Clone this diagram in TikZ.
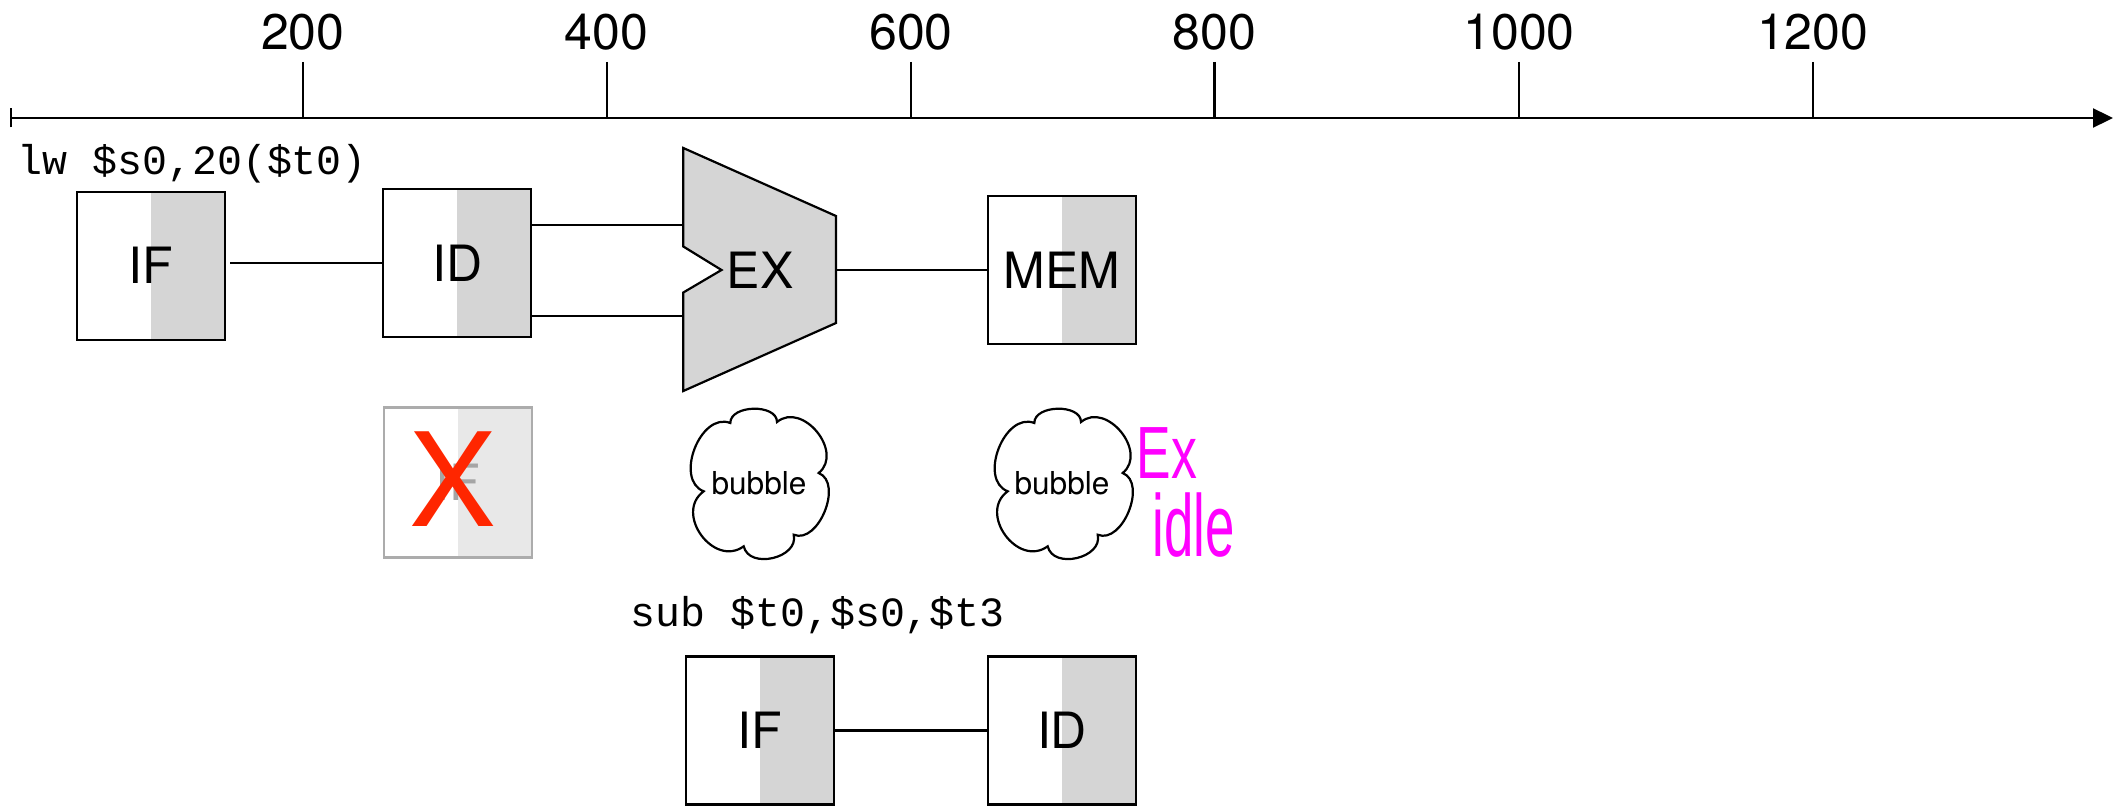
\documentclass[tikz,border=0pt]{standalone}
\usepackage{fontspec}
\setmainfont{TeX Gyre Heros}
\newfontfamily\codefont{Liberation Mono}
\newfontfamily\handfont{Liberation Sans}
\usetikzlibrary{arrows.meta}
\definecolor{stagegray}{RGB}{213,213,213}
\definecolor{fadeline}{RGB}{172,172,172}
\definecolor{fadefill}{RGB}{232,232,232}
\definecolor{fadetext}{RGB}{165,165,165}
\definecolor{stallred}{RGB}{255,38,0}
\definecolor{inkpink}{RGB}{255,0,255}
\tikzset{
  wire/.style={line width=1.1pt},
  stagebox/.style={draw, line width=1.1pt, minimum width=74pt, minimum height=74pt,
    inner sep=0pt, font=\fontsize{25}{30}\selectfont,
    path picture={\fill[stagegray] (path picture bounding box.north)
      rectangle (path picture bounding box.south east);}},
  fadebox/.style={draw=fadeline, line width=1.1pt, minimum width=74pt, minimum height=75pt,
    inner sep=0pt, text=fadetext, font=\fontsize{25}{30}\selectfont,
    path picture={\fill[fadefill] (path picture bounding box.north)
      rectangle (path picture bounding box.south east);}},
  ticklabel/.style={inner sep=0pt, font=\fontsize{25}{30}\selectfont},
  codetext/.style={anchor=base west, inner sep=0pt, font=\codefont\fontsize{20.8}{25}\selectfont},
  bubbletext/.style={inner sep=0pt, font=\fontsize{15.8}{19}\selectfont},
  inknote/.style={inner sep=0pt, text=inkpink, font=\handfont},
  bubblecloud/.pic={
    \draw[line width=1.1pt, fill=white]
      (-27.7,-61) .. controls (-27.7,-79.4) and (19,-80.4) .. (19,-62)
      .. controls (44.5,-82.9) and (86.2,-31.9) .. (60.7,-11)
      .. controls (85.4,-1) and (60.4,60.7) .. (35.7,50.7)
      .. controls (41.1,74.1) and (-8.9,85.7) .. (-14.3,62.3)
      .. controls (-44.3,84.1) and (-84.3,29.1) .. (-54.3,7.3)
      .. controls (-84.1,-4.3) and (-57.5,-72.6) .. (-27.7,-61) -- cycle;
  }
}
\begin{document}
\begin{tikzpicture}[x=0.5pt, y=-0.5pt]
\useasboundingbox (0,0) rectangle (2114,808);

% time axis
\coordinate (axisstart) at (9.5,118);
\coordinate (axisend) at (2113,118);
\draw[wire, {Bar[width=9.5pt]}-{Triangle[length=10pt,width=9.5pt]}] (axisstart) -- (axisend);
\foreach \xpos/\lab in {302.7/200, 606.6/400, 911/600, 1214.5/800, 1519/1000, 1812.7/1200}{
  \coordinate (tick\lab) at (\xpos,62);
  \draw[wire] (tick\lab) -- (tick\lab |- axisstart);
  \node[ticklabel] (lab\lab) at (\xpos,32) {\lab};
}

% first instruction
\node[codetext] (lwcode) at (17,175) {lw \$s0,20(\$t0)};
\node[stagebox] (IFa) at (150.7,265.7) {IF};
\node[stagebox] (IDa) at (457.3,262.8) {ID};
\draw[fill=stagegray, line width=1.1pt]
  (683.3,148) -- (836,216) -- (836,323) -- (683.3,391) -- (683.3,292.5)
  -- (721.5,270) -- (683.3,246.5) -- cycle;
\node[inner sep=0pt, font=\fontsize{25}{30}\selectfont] (EXa) at (760,270) {EX};
\node[stagebox] (MEMa) at (1061.7,270) {MEM};

\coordinate (ifaout) at ([xshift=2.2pt]IFa.east);
\draw[wire] (ifaout |- IDa.west) -- (IDa.west);
\coordinate (exinA) at (683.3,225);
\coordinate (exinB) at (683.3,315.7);
\coordinate (exout) at (836,270);
\draw[wire] (IDa.east |- exinA) -- (exinA);
\draw[wire] (IDa.east |- exinB) -- (exinB);
\draw[wire] (exout) -- (MEMa.west);

% cancelled fetch and bubbles
\node[fadebox] (IFx) at (457.8,482.5) {IF};
\node[inner sep=0pt, text=stallred, font=\fontsize{65}{70}\selectfont] (stall) at (453,479.4) {X};

\pic at (758,484) {bubblecloud};
\node[bubbletext] (bubA) at (759,483) {bubble};
\pic at (1062,484) {bubblecloud};
\node[bubbletext] (bubB) at (1062,483) {bubble};

\node[inknote, font=\handfont\fontsize{37}{40}\selectfont] (noteEx) at (1167,453.5) {\scalebox{0.7}[1]{Ex}};
\node[inknote, font=\handfont\fontsize{44}{48}\selectfont] (noteIdle) at (1194,525) {\scalebox{0.6}[1]{idle}};

% second instruction
\node[codetext] (subcode) at (630,626) {sub \$t0,\$s0,\$t3};
\node[stagebox] (IFb) at (759.7,730.5) {IF};
\node[stagebox] (IDb) at (1062,730.5) {ID};
\draw[wire] (IFb.east) -- (IDb.west);
\end{tikzpicture}
\end{document}
